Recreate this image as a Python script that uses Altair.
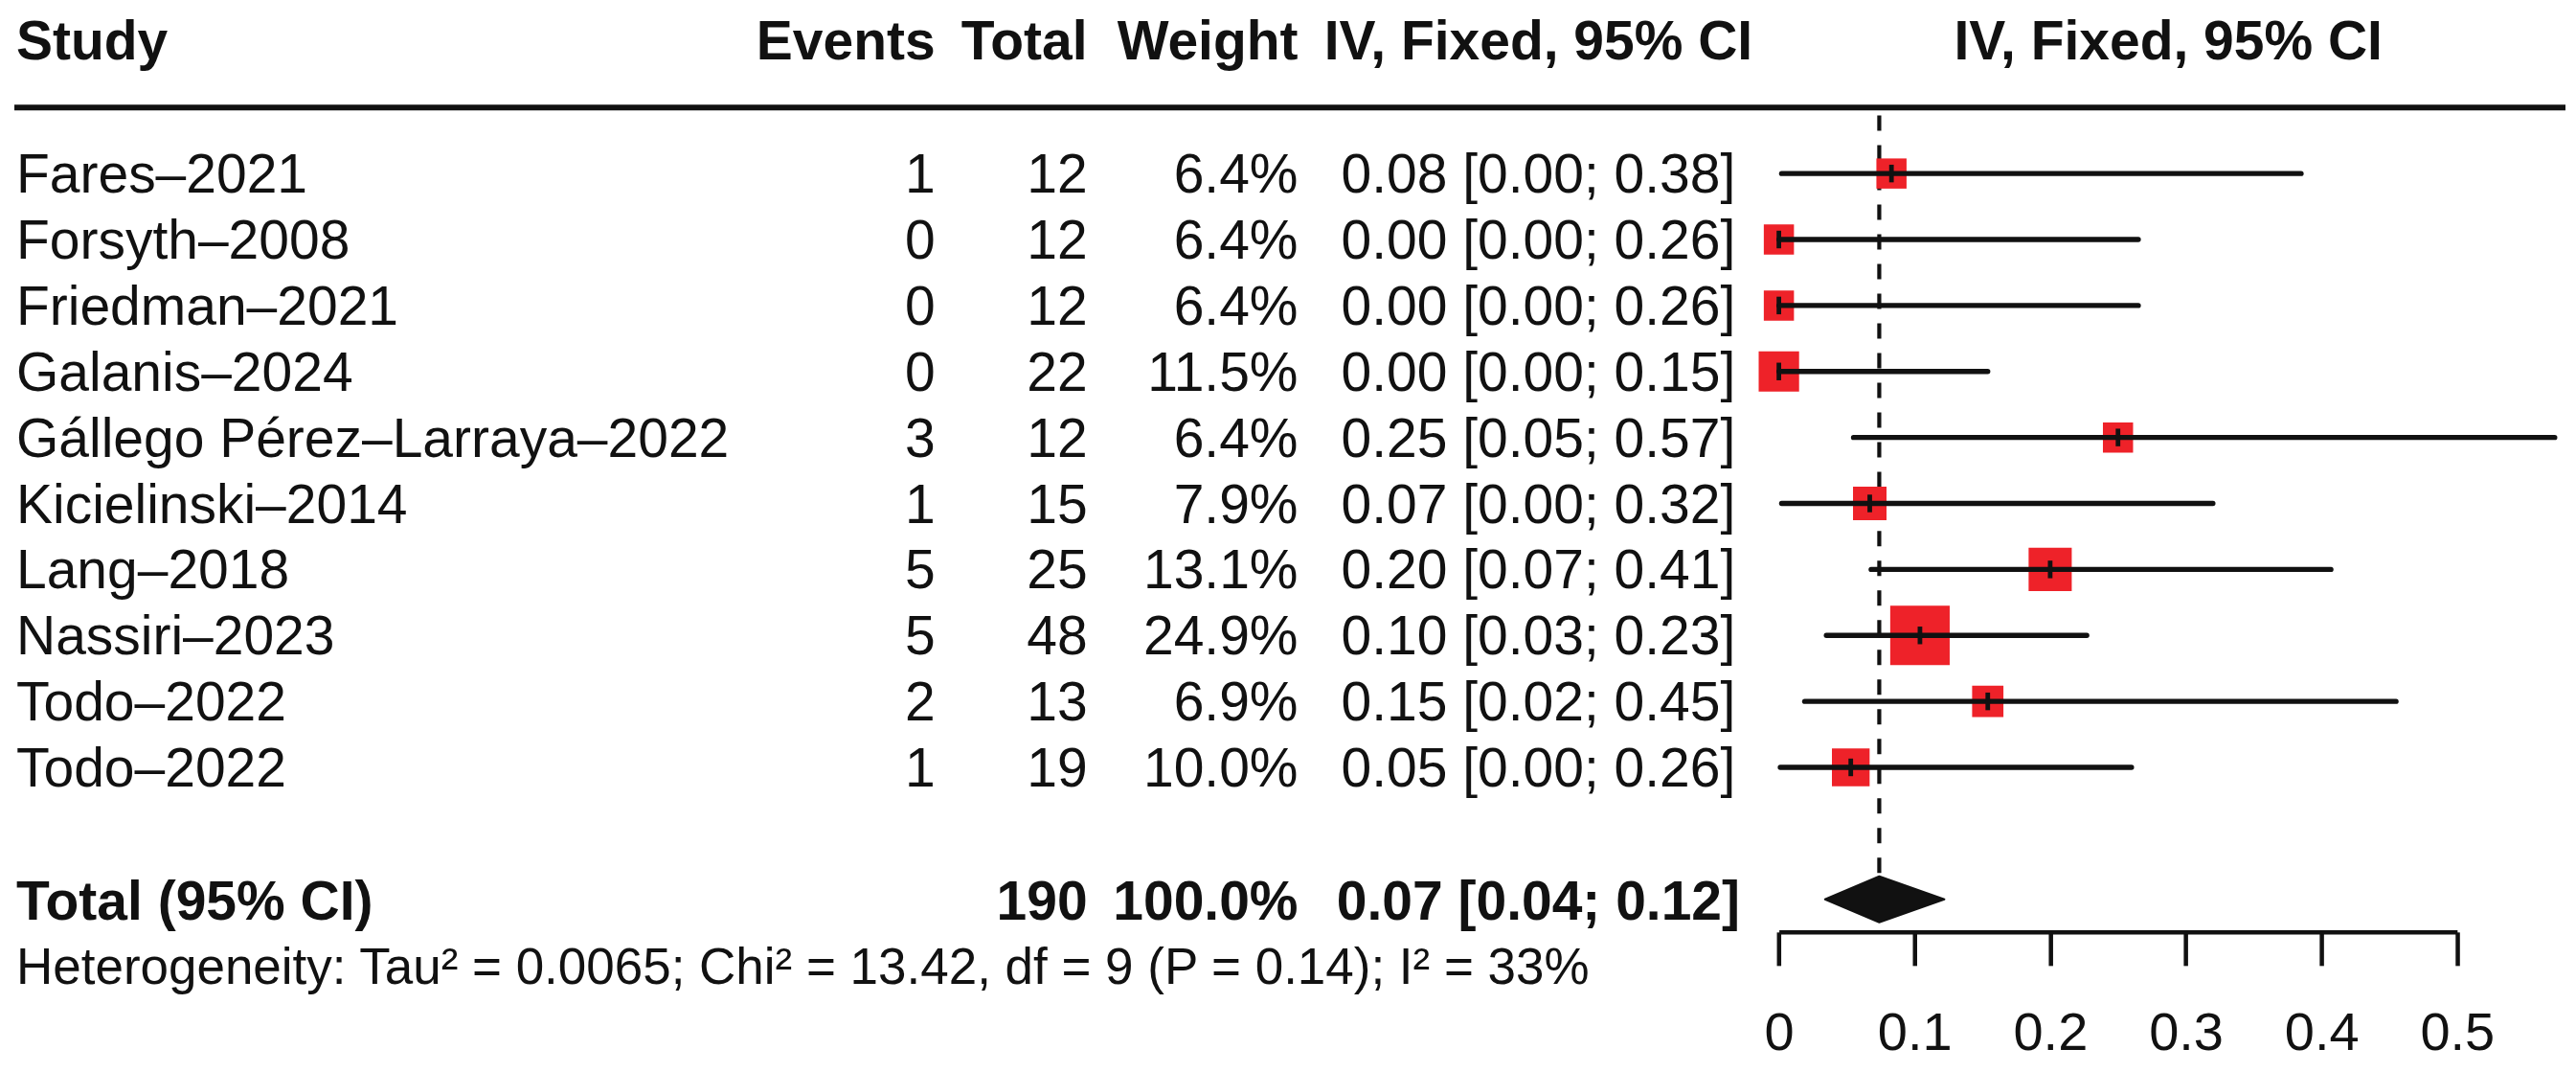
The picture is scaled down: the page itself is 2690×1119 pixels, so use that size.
import altair as alt
import pandas as pd

# ---------------- data ----------------
studies = ["Fares–2021", "Forsyth–2008", "Friedman–2021", "Galanis–2024",
           "Gállego Pérez–Larraya–2022", "Kicielinski–2014", "Lang–2018",
           "Nassiri–2023", "Todo–2022", "Todo–2022"]
events = [1, 0, 0, 0, 3, 1, 5, 5, 2, 1]
totals = [12, 12, 12, 22, 12, 15, 25, 48, 13, 19]
weights = [6.4, 6.4, 6.4, 11.5, 6.4, 7.9, 13.1, 24.9, 6.9, 10.0]
estimates = [0.083, 0.0, 0.0, 0.0, 0.25, 0.067, 0.20, 0.104, 0.154, 0.053]
lowers = [0.002, 0.0, 0.0, 0.0, 0.055, 0.002, 0.068, 0.035, 0.019, 0.001]
uppers = [0.385, 0.265, 0.265, 0.154, 0.572, 0.320, 0.407, 0.227, 0.455, 0.260]
ci_labels = ["0.08 [0.00; 0.38]", "0.00 [0.00; 0.26]", "0.00 [0.00; 0.26]",
             "0.00 [0.00; 0.15]", "0.25 [0.05; 0.57]", "0.07 [0.00; 0.32]",
             "0.20 [0.07; 0.41]", "0.10 [0.03; 0.23]", "0.15 [0.02; 0.45]",
             "0.05 [0.00; 0.26]"]

total_label = "Total (95% CI)"
total_n = 190
total_weight = "100.0%"
pooled_est = 0.074
pooled_lo = 0.034
pooled_hi = 0.122
pooled_label = "0.07 [0.04; 0.12]"
het_text = "Heterogeneity: Tau² = 0.0065; Chi² = 13.42, df = 9 (P = 0.14); I² = 33%"
headers = ["Study", "Events", "Total", "Weight", "IV, Fixed, 95% CI", "IV, Fixed, 95% CI"]
x_ticks = [0, 0.1, 0.2, 0.3, 0.4, 0.5]

# ---------------- style / layout ----------------
FONT = "Liberation Sans"
INK = "#111111"
RED = "#EE2229"
FS = 57
ROW0 = 104.1   # chart y of row 0 (header rule)
ROWH = 68.9    # row pitch
W, H = 2674, 965

yscale = alt.Scale(domain=[-1, 14], range=[ROW0 - ROWH, ROW0 + 14 * ROWH], nice=False, zero=False)
xscale = alt.Scale(domain=[0, 0.5], range=[1850.3, 2558.8], nice=False, zero=False)
xaxis = alt.Axis(values=x_ticks, format="~g", title=None, grid=False,
                 domainColor=INK, domainWidth=4.5, tickColor=INK, tickWidth=4.5,
                 tickSize=35, labelFontSize=56, labelFont=FONT, labelColor=INK,
                 labelPadding=44, labelOverlap=False, labelFlush=False)


def X(field):
    return alt.X(field, type="quantitative", scale=xscale, axis=xaxis)


def Y(field):
    return alt.Y(field, type="quantitative", scale=yscale, axis=None)


rows = list(range(1, len(studies) + 1))
df = pd.DataFrame({
    "row": rows,
    "study": studies,
    "events": [str(e) for e in events],
    "total": [str(t) for t in totals],
    "weight": [f"{w:.1f}%" for w in weights],
    "est": estimates,
    "lo": lowers,
    "hi": uppers,
    "ci": ci_labels,
})
df["area"] = [155.0 * w for w in weights]
TICK_HALF = 9.2 / ROWH
df["t0"] = df["row"] - TICK_HALF
df["t1"] = df["row"] + TICK_HALF

TOTAL_ROW = 12
DIA_HALF = 24.0 / ROWH
dia = pd.DataFrame({
    "x": [pooled_lo, pooled_est, pooled_hi],
    "y": [TOTAL_ROW, TOTAL_ROW - DIA_HALF, TOTAL_ROW],
    "y2": [TOTAL_ROW, TOTAL_ROW + DIA_HALF, TOTAL_ROW],
})
pool = pd.DataFrame({"est": [pooled_est], "y0": [0.12], "y1": [TOTAL_ROW - DIA_HALF - 0.05]})

dashed = alt.Chart(pool).mark_rule(color=INK, strokeWidth=4.2, strokeDash=[16, 15]).encode(
    x=X("est"), y=Y("y0"), y2="y1")

squares = alt.Chart(df).mark_square(color=RED, opacity=1, filled=True, strokeWidth=0).encode(
    x=X("est"), y=Y("row"), size=alt.Size("area:Q", scale=None, legend=None))

ci_lines = alt.Chart(df).mark_rule(color=INK, strokeWidth=5.3, strokeCap="round").encode(
    x=X("lo"), x2="hi", y=Y("row"))

ticks = alt.Chart(df).mark_rule(color=INK, strokeWidth=4.8).encode(
    x=X("est"), y=Y("t0"), y2="t1")

diamond = alt.Chart(dia).mark_area(color=INK, opacity=1, stroke=INK, strokeWidth=2,
                                   strokeJoin="round", interpolate="linear").encode(
    x=X("x"), y=Y("y"), y2="y2")

top_line = alt.Chart(pd.DataFrame({"row": [0]})).mark_rule(color=INK, strokeWidth=5.8).encode(
    x=alt.value(7), x2=alt.value(2672), y=Y("row"))


def text_layer(data, field, x, align, bold=False, size=FS, dy=20):
    return alt.Chart(data).mark_text(
        align=align, baseline="alphabetic", dy=dy, font=FONT, fontSize=size,
        fontWeight="bold" if bold else "normal", color=INK,
    ).encode(x=alt.value(x), y=Y("row"), text=alt.Text(f"{field}:N"))


COLX = {"study": 9, "events": 969, "total": 1128, "weight": 1348, "ci": 1599, "plot": 2257}

hdr = pd.DataFrame({"row": [-1], "h0": [headers[0]], "h1": [headers[1]], "h2": [headers[2]],
                    "h3": [headers[3]], "h4": [headers[4]], "h5": [headers[5]]})
tot = pd.DataFrame({"row": [TOTAL_ROW], "label": [total_label], "total": [str(total_n)],
                    "weight": [total_weight], "ci": [pooled_label]})
het = pd.DataFrame({"row": [TOTAL_ROW + 1], "label": [het_text]})

texts = [
    text_layer(hdr, "h0", COLX["study"], "left", bold=True, dy=19),
    text_layer(hdr, "h1", COLX["events"], "right", bold=True, dy=19),
    text_layer(hdr, "h2", COLX["total"], "right", bold=True, dy=19),
    text_layer(hdr, "h3", COLX["weight"], "right", bold=True, dy=19),
    text_layer(hdr, "h4", COLX["ci"], "center", bold=True, dy=19),
    text_layer(hdr, "h5", COLX["plot"], "center", bold=True, dy=19),
    text_layer(df, "study", COLX["study"], "left"),
    text_layer(df, "events", COLX["events"], "right"),
    text_layer(df, "total", COLX["total"], "right"),
    text_layer(df, "weight", COLX["weight"], "right"),
    text_layer(df, "ci", COLX["ci"], "center"),
    text_layer(tot, "label", COLX["study"], "left", bold=True, dy=21),
    text_layer(tot, "total", COLX["total"], "right", bold=True, dy=21),
    text_layer(tot, "weight", COLX["weight"], "right", bold=True, dy=21),
    text_layer(tot, "ci", COLX["ci"], "center", bold=True, dy=21),
    text_layer(het, "label", COLX["study"], "left", size=53, dy=19),
]

chart = alt.layer(dashed, squares, ci_lines, ticks, diamond, top_line, *texts).properties(
    width=W, height=H, padding=0, background="white"
).configure_view(stroke=None)

chart.save("out.html", embed_options={"renderer": "svg", "actions": False})
